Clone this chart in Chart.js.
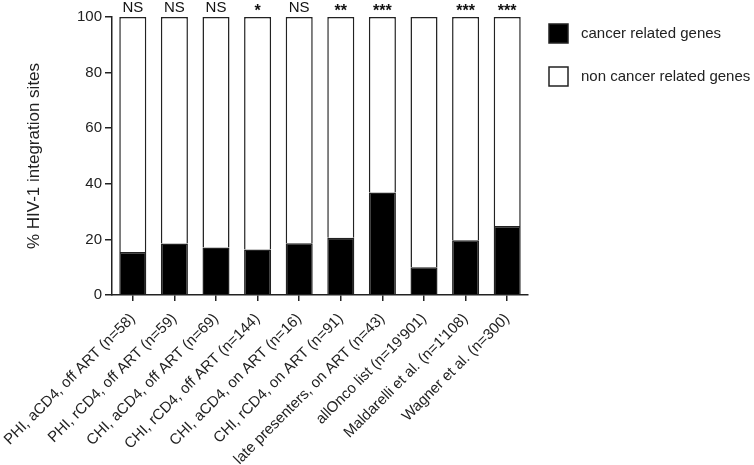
<!DOCTYPE html>
<html lang="en">
<head>
<meta charset="UTF-8">
<title>HIV-1 integration sites</title>
<script src="https://cdn.jsdelivr.net/npm/chart.js"></script>
<style>
  html, body { margin: 0; padding: 0; background: #fff; }
  #wrap { width: 754px; height: 465px; }
</style>
</head>
<body>
<div id="wrap"><canvas id="myChart"></canvas></div>
<script>
// datos
var categorias = [
  'PHI, aCD4, off ART (n=58)',
  'PHI, rCD4, off ART (n=59)',
  'CHI, aCD4, off ART (n=69)',
  'CHI, rCD4, off ART (n=144)',
  'CHI, aCD4, on ART (n=16)',
  'CHI, rCD4, on ART (n=91)',
  'late presenters, on ART (n=43)',
  "allOnco list (n=19'901)",
  "Maldarelli et al. (n=1'108)",
  'Wagner et al. (n=300)'
];
var cancer   = [15.5, 18.5, 17.1, 16.4, 18.6, 20.6, 36.9, 10.0, 19.7, 24.8];
var noCancer = [84.5, 81.5, 82.9, 83.6, 81.4, 79.4, 63.1, 90.0, 80.3, 75.2];
var significancia = ['NS', 'NS', 'NS', '*', 'NS', '**', '***', '', '***', '***'];
var yTicks = [0, 20, 40, 60, 80, 100];

var fuente = 'Liberation Sans, Arial, Helvetica, sans-serif';

// etiquetas NS / * encima de cada barra
var etiquetas = {
  id: 'etiquetas',
  afterDatasetsDraw: function(chart) {
    var ctx = chart.ctx;
    var x = chart.scales.x, y = chart.scales.y;
    ctx.save();
    ctx.fillStyle = '#111';
    ctx.textAlign = 'center';
    ctx.textBaseline = 'alphabetic';
    significancia.forEach(function(s, i) {
      var px = x.getPixelForValue(i);
      var py = y.getPixelForValue(100);
      if (s === 'NS') {
        ctx.font = '15px ' + fuente;
        ctx.fillText(s, px, py - 5);
      } else if (s) {
        ctx.font = 'bold 16px ' + fuente;
        ctx.fillText(s, px, py - 1);
      }
    });
    ctx.restore();
  }
};

// leyenda a la derecha, dibujada a mano
var leyenda = {
  id: 'leyenda',
  afterDraw: function(chart) {
    var ctx = chart.ctx;
    var area = chart.chartArea;
    ctx.save();
    ctx.font = '15px ' + fuente;
    ctx.textBaseline = 'middle';
    chart.data.datasets.forEach(function(ds, i) {
      var bx = area.right + 21;
      var by = area.top + 7 + i * 43;
      ctx.fillStyle = ds.backgroundColor;
      ctx.fillRect(bx, by, 19, 19);
      ctx.strokeStyle = '#222';
      ctx.lineWidth = 1.5;
      ctx.strokeRect(bx, by, 19, 19);
      ctx.fillStyle = '#222';
      ctx.fillText(ds.label, bx + 32, by + 10);
    });
    ctx.restore();
  }
};

var ctx = document.getElementById('myChart').getContext('2d');
var myChart = new Chart(ctx, {
  type: 'bar',
  data: {
    labels: categorias,
    datasets: [{
      label: 'cancer related genes',
      data: cancer,
      backgroundColor: '#000',
      borderColor: '#222',
      borderWidth: 1.5,
      categoryPercentage: 0.65,
      barPercentage: 1
    }, {
      label: 'non cancer related genes',
      data: noCancer,
      backgroundColor: '#fff',
      borderColor: '#222',
      borderWidth: 1.5,
      categoryPercentage: 0.65,
      barPercentage: 1
    }]
  },
  options: {
    responsive: true,
    maintainAspectRatio: false,
    animation: false,
    layout: { padding: { top: 17, right: 226, left: 0, bottom: 0 } },
    plugins: {
      tooltip: { enabled: false },
      legend: { display: false }
    },
    scales: {
      x: {
        stacked: true,
        afterFit: function(axis) {
          axis.height = 170;
          axis.paddingLeft = 0;
          axis.paddingRight = 0;
        },
        grid: {
          offset: false,
          drawOnChartArea: false,
          drawTicks: true,
          tickLength: 6,
          color: '#222',
          lineWidth: 1.5
        },
        border: { color: '#222', width: 1.5 },
        ticks: {
          minRotation: 45,
          maxRotation: 45,
          autoSkip: false,
          padding: 9,
          color: '#222',
          font: { family: fuente, size: 15 }
        }
      },
      y: {
        stacked: true,
        min: 0,
        max: 100,
        afterBuildTicks: function(axis) {
          axis.ticks = yTicks.map(function(v) { return { value: v }; });
        },
        afterFit: function(axis) {
          axis.width = 112;
        },
        grid: {
          drawOnChartArea: false,
          drawTicks: true,
          tickLength: 7,
          color: '#222',
          lineWidth: 1.5
        },
        border: { color: '#222', width: 1.5 },
        ticks: {
          padding: 3,
          color: '#222',
          font: { family: fuente, size: 15 }
        },
        title: {
          display: true,
          text: '% HIV-1 integration sites',
          color: '#222',
          font: { family: fuente, size: 17 },
          padding: { top: 24, bottom: 0 }
        }
      }
    }
  },
  plugins: [etiquetas, leyenda]
});
</script>
</body>
</html>
